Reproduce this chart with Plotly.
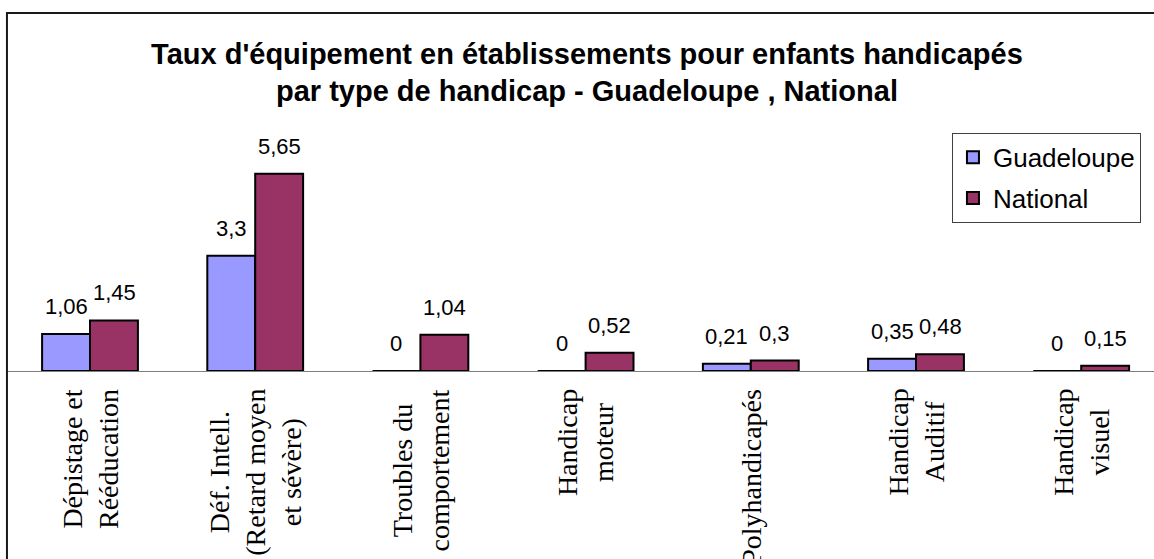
import plotly.graph_objects as go

# catégories (retours à la ligne comme dans l'original)
categories = [
    "Dépistage et<br>Rééducation",
    "Déf. Intell.<br>(Retard moyen<br>et sévère)",
    "Troubles du<br>comportement",
    "Handicap<br>moteur",
    "Polyhandicapés",
    "Handicap<br>Auditif",
    "Handicap<br>visuel",
]
guadeloupe = [1.06, 3.3, 0, 0, 0.21, 0.35, 0]
national = [1.45, 5.65, 1.04, 0.52, 0.3, 0.48, 0.15]

title_text = ("Taux d'équipement en établissements pour enfants handicapés<br>"
              "par type de handicap - Guadeloupe , National")


def fr(v):
    # format français : virgule décimale
    return f"{v:g}".replace(".", ",")


fig = go.Figure()
fig.add_trace(go.Bar(
    x=categories, y=guadeloupe, name="Guadeloupe", legendgroup="g",
    marker=dict(color="#9999FF", line=dict(color="black", width=2)),
))
fig.add_trace(go.Bar(
    x=categories, y=national, name="National", legendgroup="n",
    marker=dict(color="#993366", line=dict(color="black", width=2)),
))

annotations = []
# étiquettes de valeurs au-dessus des barres
for vals, shift in [(guadeloupe, -24), (national, 24)]:
    for c, v in zip(categories, vals):
        annotations.append(dict(
            x=c, y=v, xref="x", yref="y", text=fr(v), showarrow=False,
            xanchor="center", yanchor="bottom", xshift=shift, yshift=13,
            font=dict(family="Arial", size=22, color="black"),
        ))
# libellés des catégories, verticaux et centrés
for c in categories:
    annotations.append(dict(
        x=c, y=0, xref="x", yref="y", text=c, showarrow=False,
        textangle=-90, xanchor="center", yanchor="top", yshift=-16,
        align="center",
        font=dict(family="Liberation Serif, Times New Roman, serif", size=28, color="black"),
    ))

fig.update_layout(
    width=1154, height=559,
    paper_bgcolor="white", plot_bgcolor="white",
    margin=dict(l=8, r=0, t=14, b=188),
    barmode="group", bargap=0.42, bargroupgap=0,
    title=dict(
        text=title_text, x=0.5052, xref="paper", xanchor="center",
        y=0.886, yref="container", yanchor="top",
        font=dict(family="Arial", size=29, color="black", weight="bold"),
    ),
    legend=dict(
        x=0.8237, y=0.667, xref="paper", yref="paper", xanchor="left", yanchor="top",
        bordercolor="#404040", borderwidth=1, bgcolor="white",
        font=dict(family="Arial", size=26, color="black"),
        itemwidth=30, tracegroupgap=4, traceorder="grouped",
    ),
    annotations=annotations,
    shapes=[dict(
        type="rect", xref="paper", yref="paper",
        x0=-0.0009, x1=1.05, y0=-1.0, y1=1.0028,
        line=dict(color="#1a1a1a", width=2), fillcolor="rgba(0,0,0,0)",
    )],
    showlegend=True,
)
fig.update_xaxes(
    range=[-0.4964, 6.4407], showticklabels=False, ticks="",
    showline=True, linecolor="#808080", linewidth=1, showgrid=False, zeroline=False,
)
fig.update_yaxes(range=[0, 10.23], visible=False, showgrid=False, zeroline=False)

fig.write_html("out.html", config={"displayModeBar": False},
               post_script="document.body.style.margin='0';")
